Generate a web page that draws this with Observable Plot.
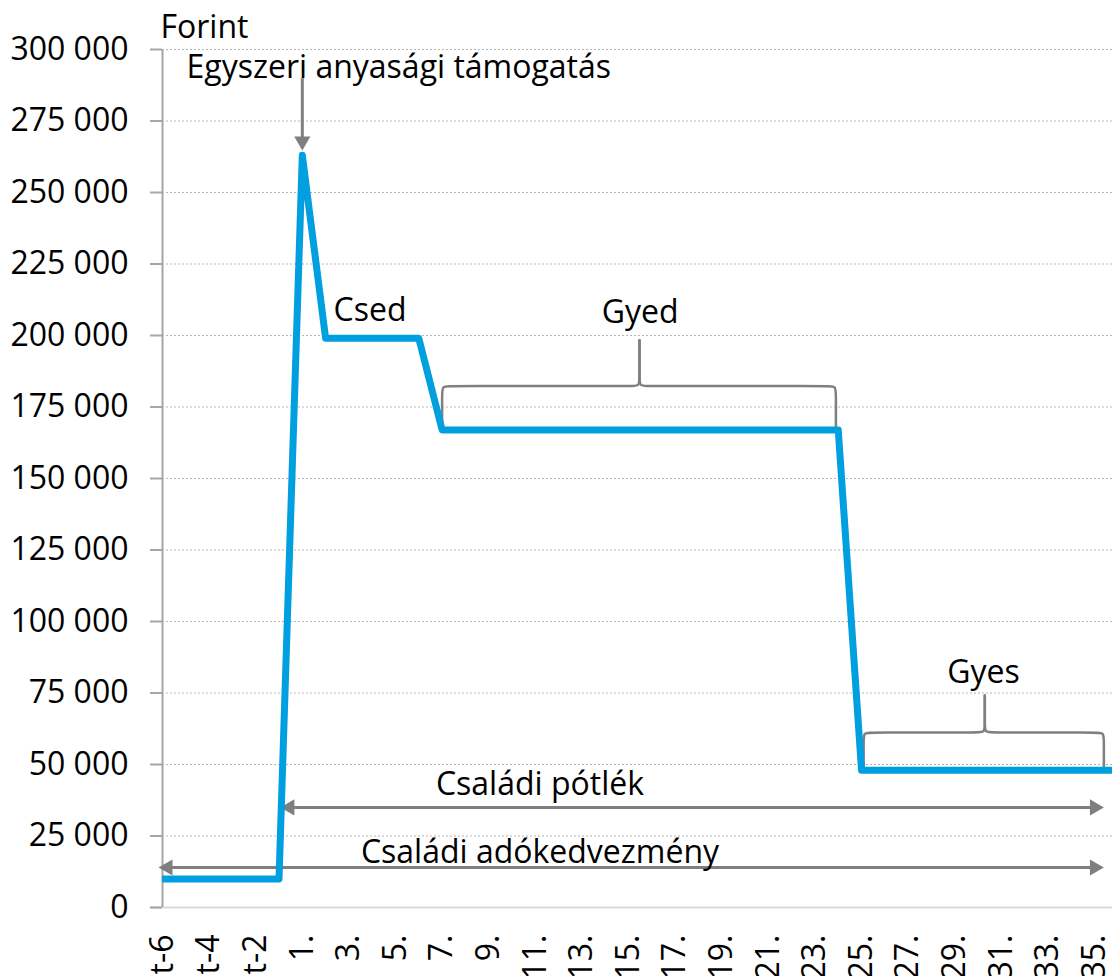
<!DOCTYPE html>
<html><head><meta charset="utf-8">
<script src="https://cdn.jsdelivr.net/npm/d3@7"></script>
<script src="https://cdn.jsdelivr.net/npm/@observablehq/plot@0.6"></script>
<style>
html,body{margin:0;padding:0;background:#fff;overflow:hidden;}
#chart svg{display:block;}
</style>
</head><body><div id="chart"></div>
<script>
// ---- data ----
const periods = ["t-6","t-5","t-4","t-3","t-2","t-1",
  "1.","2.","3.","4.","5.","6.","7.","8.","9.","10.","11.","12.",
  "13.","14.","15.","16.","17.","18.","19.","20.","21.","22.","23.","24.",
  "25.","26.","27.","28.","29.","30.","31.","32.","33.","34.","35.","36."];
const amounts = [10000,10000,10000,10000,10000,10000,
  263000,199000,199000,199000,199000,199000,
  167000,167000,167000,167000,167000,167000,167000,167000,167000,
  167000,167000,167000,167000,167000,167000,167000,167000,167000,
  48000,48000,48000,48000,48000,48000,48000,48000,48000,48000,48000,48000];
const yTicks = [0,25000,50000,75000,100000,125000,150000,175000,200000,225000,250000,275000,300000];
const xTickIdx = [0,2,4,6,8,10,12,14,16,18,20,22,24,26,28,30,32,34,36,38,40];

// ---- annotations (data units: period index, forint) ----
const labelTexts = ["Egyszeri anyasági támogatás","Csed","Gyed","Gyes","Családi pótlék","Családi adókedvezmény"];
const labelX = [1.03, 7.34, 20.5, 35.23, 16.2, 16.2];
const labelY = [290200, 205200, 204200, 78400, 39200, 15700];
const labelAnchor = ["start","start","middle","middle","middle","middle"];
const braces = [
  {x0: 12, x1: 28.9, xm: 20.47, yb: 167000, yh: 182300, yt: 198300},
  {x0: 30.09, x1: 40.4, xm: 35.29, yb: 48000, yh: 61200, yt: 74100}
];
const spans = [ // double arrows
  {x1: 5.06, x2: 40.4, y: 35000},
  {x1: -0.17, x2: 40.4, y: 14000}
];
const pointer = {x: 6, yFrom: 290000, yTip: 264700};

// ---- derived tables ----
const series = periods.map((p, i) => ({i, p, v: amounts[i]}));
const labels = labelTexts.map((t, k) => ({t, x: labelX[k], y: labelY[k], a: labelAnchor[k]}));
const RX = 0.33, RY = 2900;
const bracePts = [];
braces.forEach((b, k) => {
  [[b.x0, 1, "L"], [b.x1, -1, "R"]].forEach(([xe, s, side]) => {
    const g = k + side;
    [[xe, b.yb], [xe, b.yh - RY], [xe, b.yh], [xe + s*RX, b.yh],
     [b.xm - s*RX, b.yh], [b.xm, b.yh], [b.xm, b.yh + RY], [b.xm, b.yt]]
      .forEach(([x, y]) => bracePts.push({x, y, g}));
  });
});
const shafts = spans.map(s => ({x1: s.x1 + 0.35, x2: s.x2 - 0.35, y1: s.y, y2: s.y}));
shafts.push({x1: pointer.x, x2: pointer.x, y1: pointer.yFrom, y2: pointer.yTip + 2800});
const rightHeads = spans.map(s => ({x: s.x2, y: s.y}));
const leftHeads = spans.map(s => ({x: s.x1, y: s.y}));
const downHeads = [{x: pointer.x, y: pointer.yTip}];

const fmt = v => d3.format(",")(v).replace(/,/g, " ");
const GRAY = "#7f7f7f";
const FS = 32;

const chart = Plot.plot({
  width: 1112, height: 976,
  marginLeft: 162, marginRight: 0, marginTop: 49, marginBottom: 69,
  style: {fontFamily: "'Open Sans', sans-serif", fontSize: FS + "px", background: "#fff", color: "#000", overflow: "visible"},
  x: {type: "linear", domain: [0, 40.77]},
  y: {domain: [0, 300000]},
  marks: [
    Plot.gridY(yTicks.slice(1), {stroke: "#b5b5b5", strokeOpacity: 1, strokeWidth: 1, strokeDasharray: "2,2"}),
    Plot.ruleY([0], {stroke: "#d9d9d9", strokeWidth: 2, insetLeft: -12}),
    Plot.ruleX([0], {y1: 0, y2: 300000, stroke: "#a6a6a6", strokeWidth: 2}),
    Plot.axisY({ticks: yTicks, tickFormat: fmt, tickSize: 12, tickPadding: 22, fontSize: FS,
      stroke: "#a6a6a6", strokeWidth: 2, fill: "#000", label: null}),
    Plot.axisX({ticks: xTickIdx, tickFormat: i => periods[i], tickRotate: -90, tickSize: 0,
      tickPadding: 27, fontSize: FS, fill: "#000", label: null}),
    Plot.text(["Forint"], {frameAnchor: "top-left", textAnchor: "start", lineAnchor: "bottom",
      dy: -12, dx: -2, fontSize: FS, fill: "#000"}),
    Plot.line(bracePts, {x: "x", y: "y", z: "g", curve: "basis", stroke: GRAY, strokeWidth: 2.5}),
    Plot.link(shafts, {x1: "x1", x2: "x2", y1: "y1", y2: "y2", stroke: GRAY, strokeWidth: 3}),
    Plot.dot(rightHeads, {x: "x", y: "y", symbol: "triangle", r: 6, rotate: 90, dx: -9.3, fill: GRAY, stroke: "none"}),
    Plot.dot(leftHeads, {x: "x", y: "y", symbol: "triangle", r: 6, rotate: -90, dx: 9.3, fill: GRAY, stroke: "none"}),
    Plot.dot(downHeads, {x: "x", y: "y", symbol: "triangle", r: 6, rotate: 180, dy: -9.3, fill: GRAY, stroke: "none"}),
    Plot.line(series, {x: "i", y: "v", stroke: "#009fdf", strokeWidth: 7, strokeLinejoin: "round", clip: true}),
    Plot.text(labels, {x: "x", y: "y", text: "t", textAnchor: "start", lineAnchor: "bottom", fontSize: FS, fill: "#000",
      filter: d => d.a === "start"}),
    Plot.text(labels, {x: "x", y: "y", text: "t", textAnchor: "middle", lineAnchor: "bottom", fontSize: FS, fill: "#000",
      filter: d => d.a === "middle"})
  ]
});
document.getElementById("chart").appendChild(chart);
</script>
</body></html>
